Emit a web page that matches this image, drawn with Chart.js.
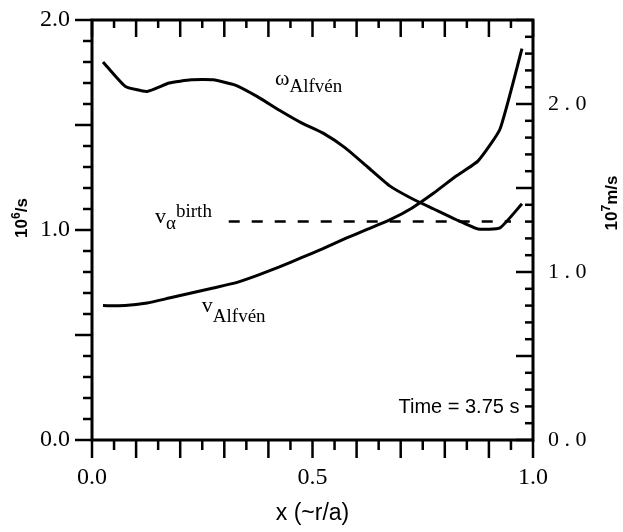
<!DOCTYPE html>
<html>
<head>
<meta charset="utf-8">
<script src="https://cdn.jsdelivr.net/npm/chart.js@4/dist/chart.umd.min.js"></script>
<style>
  html, body { margin: 0; padding: 0; background: #fff; }
  #wrap { width: 623px; height: 532px; }
</style>
</head>
<body>
<div id="wrap"><canvas id="alfvenChart" width="623" height="532"></canvas></div>
<script>
/* global Chart */
// radial grid (x ~ r/a)
const xPos = [0.025, 0.075, 0.125, 0.175, 0.225, 0.275, 0.325, 0.375, 0.425, 0.475,
  0.525, 0.575, 0.625, 0.675, 0.725, 0.775, 0.825, 0.875, 0.925, 0.975];
// Alfven frequency, 10^6/s (left axis)
const omegaAlfven = [1.80, 1.685, 1.66, 1.70, 1.715, 1.715, 1.69, 1.635, 1.57, 1.51,
  1.46, 1.39, 1.30, 1.21, 1.15, 1.10, 1.05, 1.005, 1.01, 1.125];
// Alfven speed, 10^7 m/s (right axis)
const vAlfven = [0.80, 0.80, 0.815, 0.845, 0.875, 0.905, 0.935, 0.98, 1.03, 1.085,
  1.14, 1.20, 1.255, 1.31, 1.38, 1.47, 1.57, 1.66, 1.85, 2.33];
// alpha birth speed, 10^7 m/s
const vBirthX = [0.31, 0.95];
const vBirth = [1.3, 1.3];

const leftTicks = [0, 1, 2];
const rightTicks = [0, 1, 2];
const timeLabel = 'Time = 3.75 s';

const SERIF = '"Liberation Serif", "DejaVu Serif", serif';
const SANS = '"Liberation Sans", Arial, sans-serif';

function toPoints(xs, ys) {
  return xs.map((x, i) => ({ x, y: ys[i] }));
}

// fixed box size, no label overhang padding
function fixBox(size) {
  return (s) => {
    if (s.isHorizontal()) s.height = size; else s.width = size;
    s.paddingLeft = 0;
    s.paddingRight = 0;
    s.paddingTop = 0;
    s.paddingBottom = 0;
  };
}

// text made of pieces with baseline shifts (subscripts / superscripts)
function drawRich(ctx, x, y, parts) {
  let cx = x;
  parts.forEach((p) => {
    ctx.font = p.font;
    ctx.fillText(p.t, cx, y + (p.dy || 0));
    cx += ctx.measureText(p.t).width + (p.gap || 0);
  });
}

function richWidth(ctx, parts) {
  let w = 0;
  parts.forEach((p) => {
    ctx.font = p.font;
    w += ctx.measureText(p.t).width + (p.gap || 0);
  });
  return w;
}

// rotated axis title, reading bottom to top, centred on (cx, cy)
function drawUpTitle(ctx, cx, cy, parts) {
  ctx.save();
  ctx.translate(cx, cy);
  ctx.rotate(-Math.PI / 2);
  drawRich(ctx, -richWidth(ctx, parts) / 2, 6, parts);
  ctx.restore();
}

const frameAndTicks = {
  id: 'frameAndTicks',
  afterDatasetsDraw(chart) {
    const { ctx, chartArea: a, scales } = chart;
    ctx.save();
    ctx.strokeStyle = '#000';
    ctx.lineCap = 'butt';

    ctx.lineWidth = 2.5;
    // x ticks: bottom (outside) and top (inside)
    for (let i = 0; i <= 20; i++) {
      const px = scales.x.getPixelForValue(i * 0.05);
      const major = i % 2 === 0;
      ctx.beginPath();
      ctx.moveTo(px, a.bottom);
      ctx.lineTo(px, a.bottom + (major ? 18 : 10));
      ctx.moveTo(px, a.top);
      ctx.lineTo(px, a.top + (major ? 17 : 8));
      ctx.stroke();
    }
    // left ticks (outside)
    for (let i = 0; i <= 20; i++) {
      const py = scales.y.getPixelForValue(i * 0.1);
      const len = i % 5 === 0 ? 17 : 9;
      ctx.beginPath();
      ctx.moveTo(a.left - len, py);
      ctx.lineTo(a.left, py);
      ctx.stroke();
    }
    // right ticks (inside)
    for (let i = 0; i <= 25; i++) {
      const py = scales.y2.getPixelForValue(i * 0.1);
      const len = i % 5 === 0 ? 17 : 8;
      ctx.beginPath();
      ctx.moveTo(a.right - len, py);
      ctx.lineTo(a.right, py);
      ctx.stroke();
    }

    ctx.lineWidth = 3;
    ctx.strokeRect(a.left, a.top, a.right - a.left, a.bottom - a.top);
    ctx.restore();
  },
};

const labelsPlugin = {
  id: 'curveLabels',
  afterDraw(chart) {
    const { ctx, scales } = chart;
    const X = (v) => scales.x.getPixelForValue(v);
    const Y = (v) => scales.y.getPixelForValue(v);
    ctx.save();
    ctx.fillStyle = '#000';
    ctx.textAlign = 'left';
    ctx.textBaseline = 'alphabetic';

    drawRich(ctx, X(0.415), Y(1.69), [
      { t: 'ω', font: `22px ${SERIF}` },
      { t: 'Alfvén', font: `19px ${SERIF}`, dy: 7 },
    ]);
    drawRich(ctx, X(0.249), Y(0.61), [
      { t: 'v', font: `22px ${SERIF}` },
      { t: 'Alfvén', font: `19px ${SERIF}`, dy: 10 },
    ]);
    drawRich(ctx, X(0.143), Y(1.033), [
      { t: 'v', font: `22px ${SERIF}` },
      { t: 'α', font: `19px ${SERIF}`, dy: 6 },
      { t: 'birth', font: `19px ${SERIF}`, dy: -6 },
    ]);

    ctx.font = `20px ${SANS}`;
    ctx.fillText(timeLabel, X(0.695), Y(0.13));

    // axis titles, both reading upwards
    drawUpTitle(ctx, 21, 218, [
      { t: '10', font: `bold 17px ${SANS}` },
      { t: '6', font: `bold 12px ${SANS}`, dy: -7 },
      { t: '/s', font: `bold 17px ${SANS}` },
    ]);
    drawUpTitle(ctx, 611, 203, [
      { t: '10', font: `bold 17px ${SANS}` },
      { t: '7', font: `bold 12px ${SANS}`, dy: -7 },
      { t: 'm/s', font: `bold 17px ${SANS}` },
    ]);
    ctx.restore();
  },
};

const ctx = document.getElementById('alfvenChart').getContext('2d');

const chart = new Chart(ctx, {
  type: 'line',
  data: {
    datasets: [{
      label: 'omega Alfven',
      data: toPoints(xPos, omegaAlfven),
      yAxisID: 'y',
      borderColor: '#000',
      borderWidth: 3,
      pointRadius: 0,
      tension: 0.15,
      fill: false,
    }, {
      label: 'v Alfven',
      data: toPoints(xPos, vAlfven),
      yAxisID: 'y2',
      borderColor: '#000',
      borderWidth: 3,
      pointRadius: 0,
      tension: 0.15,
      fill: false,
    }, {
      label: 'v alpha birth',
      data: toPoints(vBirthX, vBirth),
      yAxisID: 'y2',
      borderColor: '#000',
      borderWidth: 2.5,
      borderDash: [11, 12],
      pointRadius: 0,
      fill: false,
    }],
  },
  options: {
    responsive: false,
    animation: false,
    layout: { padding: { top: 20, left: 0, right: 0, bottom: 0 } },
    plugins: { legend: { display: false }, tooltip: { enabled: false } },
    scales: {
      x: {
        type: 'linear',
        position: 'bottom',
        min: 0,
        max: 1,
        grid: { display: false },
        border: { display: false },
        ticks: {
          stepSize: 0.5,
          padding: 15,
          color: '#000',
          font: { family: SERIF, size: 24 },
          callback: (v) => v.toFixed(1),
        },
        title: {
          display: true,
          text: 'x (~r/a)',
          color: '#000',
          font: { family: SANS, size: 23 },
          padding: { top: 0, bottom: 5 },
        },
        afterFit: fixBox(92),
      },
      y: {
        position: 'left',
        min: 0,
        max: 2,
        grid: { display: false },
        border: { display: false },
        afterBuildTicks: (s) => { s.ticks = leftTicks.map((value) => ({ value })); },
        ticks: {
          padding: 14,
          color: '#000',
          font: { family: SERIF, size: 24 },
          callback: (v) => v.toFixed(1),
        },
        afterFit: fixBox(92),
      },
      y2: {
        position: 'right',
        min: 0,
        max: 2.5,
        grid: { display: false },
        border: { display: false },
        afterBuildTicks: (s) => { s.ticks = rightTicks.map((value) => ({ value })); },
        ticks: {
          padding: 7,
          color: '#000',
          font: { family: SERIF, size: 22 },
          callback: (v) => v.toFixed(1).split('').join(' '),
        },
        afterFit: fixBox(90),
      },
    },
  },
  plugins: [frameAndTicks, labelsPlugin],
});
</script>
</body>
</html>
